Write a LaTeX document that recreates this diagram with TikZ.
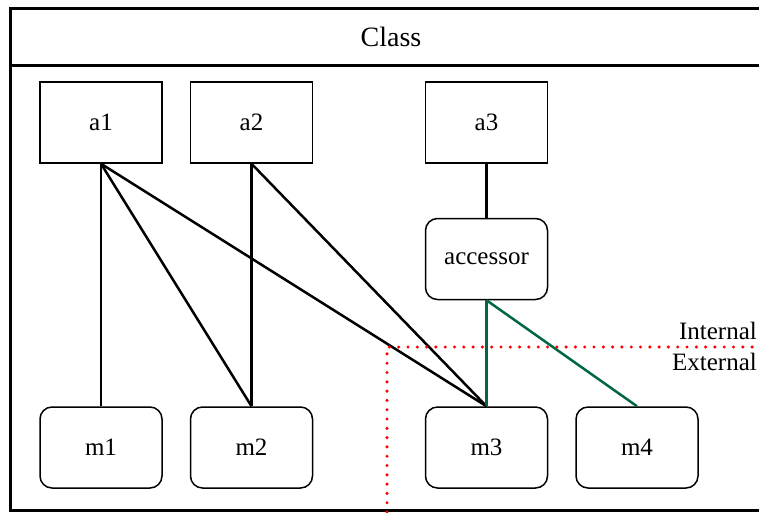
\documentclass[tikz,border=0pt]{standalone}
\usepackage{fontspec}
\setmainfont{Liberation Serif}
\begin{document}
\begin{tikzpicture}[x=1pt,y=-1pt,
  every node/.style={font=\fontsize{25}{29}\selectfont},
  sqbox/.style={draw,line width=1.5pt,minimum width=122pt,minimum height=81pt,inner sep=0pt},
  rbox/.style={sqbox,rounded corners=12pt},
  conn/.style={line width=2.5pt},
  gconn/.style={line width=2.5pt,draw=dkgreen},
  sep/.style={draw=red,line width=3.4pt,dash pattern=on 0pt off 9.3pt,line cap=round}]
\definecolor{dkgreen}{RGB}{0,102,68}
\useasboundingbox (0,0) rectangle (759,512);
% frame
\draw[line width=3pt] (790,8) -- (10,8) -- (10,510) -- (790,510);
\draw[line width=3pt] (10,65) -- (790,65);
\node[font=\fontsize{28}{32}\selectfont] (title) at (391,37) {Class};
% attributes
\node[sqbox] (a1) at (101,122.5) {a1};
\node[sqbox] (a2) at (251.5,122.5) {a2};
\node[sqbox] (a3) at (486.5,122.5) {a3};
\node[rbox] (acc) at (486.5,259) {accessor};
\node[rbox] (m1) at (101,447.5) {m1};
\node[rbox] (m2) at (251.5,447.5) {m2};
\node[rbox] (m3) at (486.5,447.5) {m3};
\node[rbox] (m4) at (637,447.5) {m4};
% connectors
\draw[conn] (a1.south) -- (m1.north);
\draw[conn] (a1.south) -- (m2.north);
\draw[conn] (a1.south) -- (m3.north);
\draw[conn] (a2.south) -- (m2.north);
\draw[conn] (a2.south) -- (m3.north);
\draw[conn] (a3.south) -- (acc.north);
\draw[gconn] (acc.south) -- (m3.north);
\draw[gconn] (acc.south) -- (m4.north);
% internal / external separator
\coordinate (c1) at (387,512);
\coordinate (c2) at (387,347);
\coordinate (c3) at (759,347);
\draw[sep] (c1) -- (c2) -- (c3);
\node[anchor=base east,inner sep=0pt] (int) at (757,339) {Internal};
\node[anchor=base east,inner sep=0pt] (ext) at (757,370) {External};
\end{tikzpicture}
\end{document}
